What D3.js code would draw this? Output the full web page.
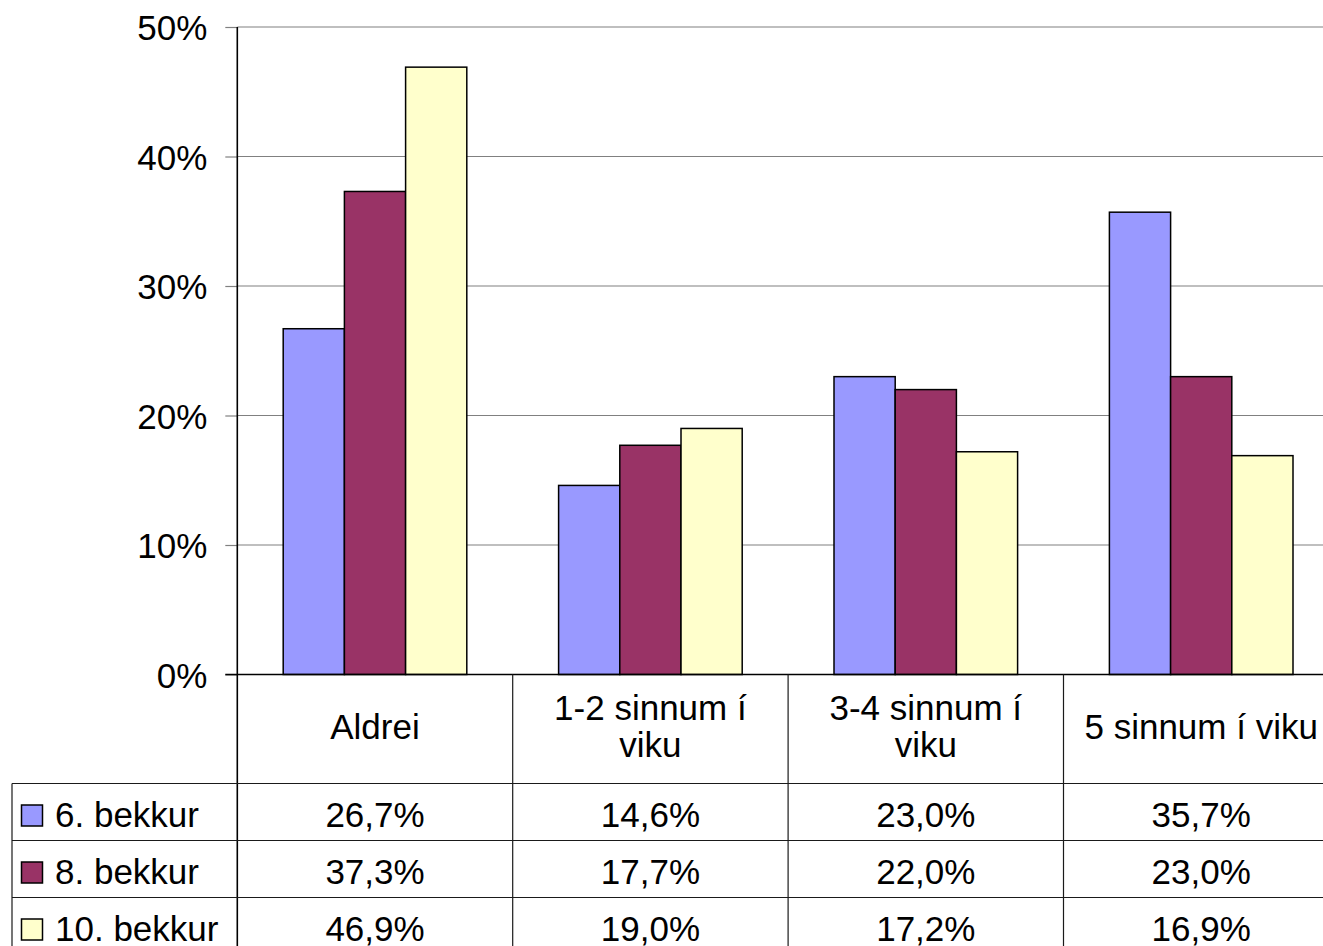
<!DOCTYPE html>
<html>
<head>
<meta charset="utf-8">
<script src="https://cdn.jsdelivr.net/npm/d3@7"></script>
<style>
  html, body { margin: 0; padding: 0; background: #fff; overflow: hidden; }
  svg { display: block; }
  text { font-family: "Liberation Sans", Arial, sans-serif; fill: #000; }
</style>
</head>
<body>
<svg id="chart" width="1323" height="946"></svg>
<script>
const categories = ["Aldrei", "1-2 sinnum í viku", "3-4 sinnum í viku", "5 sinnum í viku"];
const seriesNames = ["6. bekkur", "8. bekkur", "10. bekkur"];
const grade6 = [26.7, 14.6, 23.0, 35.7];
const grade8 = [37.3, 17.7, 22.0, 23.0];
const grade10 = [46.9, 19.0, 17.2, 16.9];
const seriesColors = ["#9999FF", "#993366", "#FFFFCC"];
const yTicks = [0, 10, 20, 30, 40, 50];

const seriesValues = [grade6, grade8, grade10];
const fmt = v => v.toFixed(1).replace(".", ",") + "%";

const svg = d3.select("#chart");
const FS = 35;

const plotLeft = 237.3, plotTop = 27, plotBottom = 674.5;
const catWidth = 275.4;
const plotRight = plotLeft + catWidth * categories.length;

const x = d3.scaleBand().domain(categories).range([plotLeft, plotRight]).paddingInner(0).paddingOuter(0);
const xs = d3.scaleBand().domain(d3.range(seriesNames.length)).range([0, x.bandwidth()]).paddingInner(0).paddingOuter(0.75);
const y = d3.scaleLinear().domain([0, 50]).range([plotBottom, plotTop]);

// gridlines
svg.append("g").selectAll("line").data(yTicks.filter(t => t > 0)).join("line")
  .attr("x1", plotLeft).attr("x2", plotRight)
  .attr("y1", d => y(d)).attr("y2", d => y(d))
  .attr("stroke", "#808080").attr("stroke-width", 1.2);

// y axis
const yAxis = d3.axisLeft(y).tickValues(yTicks).tickSize(12).tickPadding(18).tickFormat(d => d + "%");
const gy = svg.append("g").attr("transform", `translate(${plotLeft},0)`).call(yAxis);
gy.select(".domain").remove();
gy.selectAll(".tick line").attr("stroke", "#808080").attr("stroke-width", 1.2);
gy.selectAll(".tick text").attr("font-size", FS).attr("font-family", "'Liberation Sans', Arial, sans-serif")
  .attr("dy", "0.36em").attr("fill", "#000");

// bars
const gBars = svg.append("g");
seriesValues.forEach((vals, si) => {
  gBars.append("g").selectAll("rect").data(vals).join("rect")
    .attr("x", (d, i) => x(categories[i]) + xs(si))
    .attr("y", d => y(d))
    .attr("width", xs.bandwidth())
    .attr("height", d => plotBottom - y(d))
    .attr("fill", seriesColors[si])
    .attr("stroke", "#000").attr("stroke-width", 1.5);
});

// table geometry
const rowTop = 783.5, rowH = 57;
const legendLeft = 12;
const bottom = 960;
const lines = svg.append("g").attr("stroke", "#1a1a1a").attr("stroke-width", 1.2);

// axis line (vertical) through table
lines.append("line").attr("x1", plotLeft).attr("x2", plotLeft).attr("y1", plotTop).attr("y2", bottom)
  .attr("stroke", "#000").attr("stroke-width", 1.6);
// baseline
lines.append("line").attr("x1", plotLeft - 12).attr("x2", plotRight).attr("y1", plotBottom).attr("y2", plotBottom)
  .attr("stroke", "#000").attr("stroke-width", 1.6);
// category separators
lines.append("g").selectAll("line").data(categories.slice(1)).join("line")
  .attr("x1", d => x(d)).attr("x2", d => x(d)).attr("y1", plotBottom).attr("y2", bottom);
// legend left border
lines.append("line").attr("x1", legendLeft).attr("x2", legendLeft).attr("y1", rowTop).attr("y2", bottom);
// row lines
lines.append("g").selectAll("line").data(seriesNames).join("line")
  .attr("x1", legendLeft).attr("x2", plotRight)
  .attr("y1", (d, i) => rowTop + i * rowH).attr("y2", (d, i) => rowTop + i * rowH);

// category labels (wrapped)
const maxW = 245;
const gCat = svg.append("g").attr("font-size", FS).attr("text-anchor", "middle");
categories.forEach(c => {
  const t = gCat.append("text").attr("x", x(c) + x.bandwidth() / 2);
  const words = c.split(" ");
  const outLines = [];
  let cur = [];
  const probe = gCat.append("text").attr("visibility", "hidden");
  words.forEach(w => {
    const test = cur.concat([w]).join(" ");
    probe.text(test);
    if (probe.node().getComputedTextLength() > maxW && cur.length) {
      outLines.push(cur.join(" "));
      cur = [w];
    } else cur.push(w);
  });
  outLines.push(cur.join(" "));
  probe.remove();
  const first = 739 - (outLines.length - 1) * 19.5;
  outLines.forEach((ln, i) => {
    t.append("tspan").attr("x", x(c) + x.bandwidth() / 2).attr("y", first + i * 37).text(ln);
  });
});

// data rows
const gRows = svg.append("g").attr("font-size", FS);
seriesNames.forEach((name, si) => {
  const top = rowTop + si * rowH;
  gRows.append("rect").attr("x", 21.5).attr("y", top + 21.5).attr("width", 21).attr("height", 21)
    .attr("fill", seriesColors[si]).attr("stroke", "#000").attr("stroke-width", 1.5);
  gRows.append("text").attr("x", 55).attr("y", top + 43.8).text(name);
  gRows.append("g").selectAll("text").data(seriesValues[si]).join("text")
    .attr("x", (d, i) => x(categories[i]) + x.bandwidth() / 2)
    .attr("y", top + 43.8).attr("text-anchor", "middle").text(d => fmt(d));
});
</script>
</body>
</html>
